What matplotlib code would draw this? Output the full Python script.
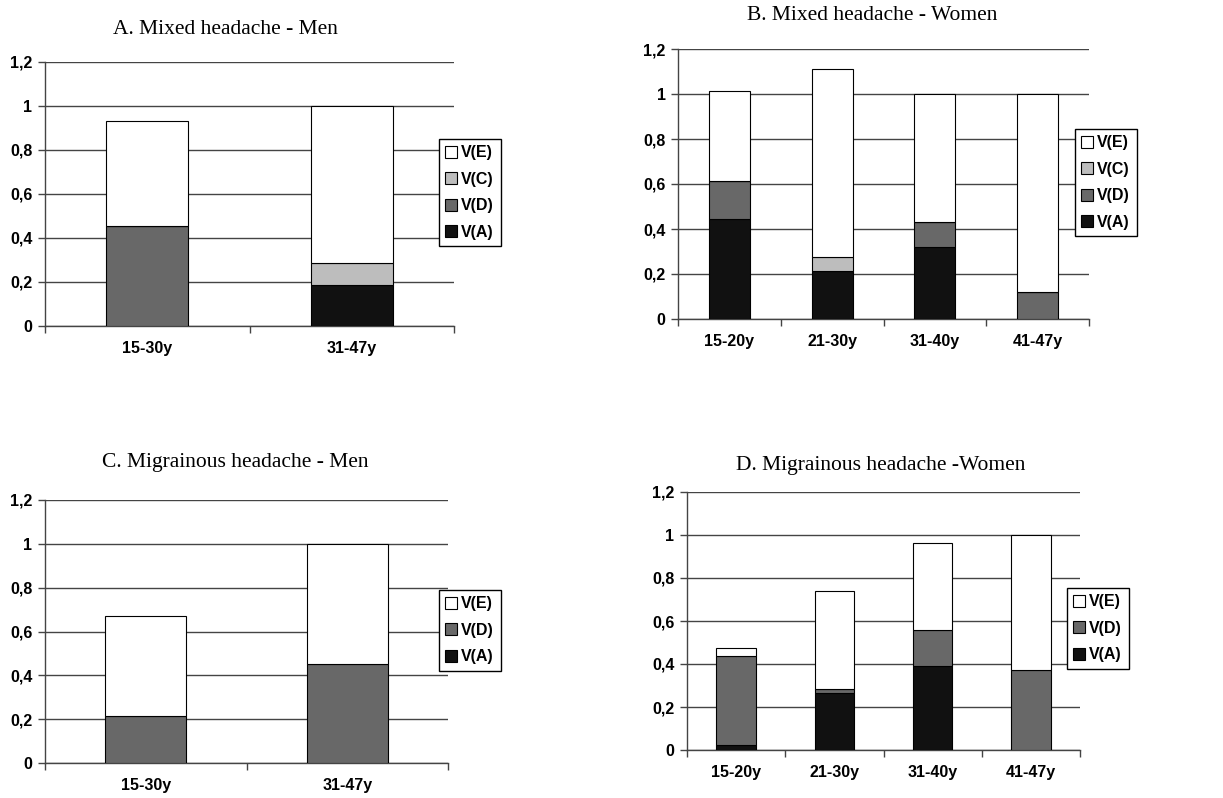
import numpy as np
import matplotlib.pyplot as plt
from matplotlib.patches import Patch

# data
a_groups = ['15-30y', '31-47y']
a_VA = [0.0, 0.185]
a_VD = [0.455, 0.0]
a_VC = [0.0, 0.10]
a_VE = [0.475, 0.715]

b_groups = ['15-20y', '21-30y', '31-40y', '41-47y']
b_VA = [0.445, 0.215, 0.32, 0.0]
b_VD = [0.17, 0.0, 0.11, 0.12]
b_VC = [0.0, 0.06, 0.0, 0.0]
b_VE = [0.40, 0.835, 0.57, 0.88]

c_groups = ['15-30y', '31-47y']
c_VA = [0.0, 0.0]
c_VD = [0.215, 0.45]
c_VE = [0.455, 0.55]

d_groups = ['15-20y', '21-30y', '31-40y', '41-47y']
d_VA = [0.025, 0.265, 0.39, 0.0]
d_VD = [0.41, 0.02, 0.17, 0.37]
d_VE = [0.04, 0.455, 0.405, 0.63]

yticks = [0, 0.2, 0.4, 0.6, 0.8, 1.0, 1.2]
ytick_labels = ['0', '0,2', '0,4', '0,6', '0,8', '1', '1,2']

colors = {'V(A)': '#111111', 'V(D)': '#686868', 'V(C)': '#bdbdbd', 'V(E)': '#ffffff'}

W, H = 1223, 798
fig = plt.figure(figsize=(W / 100, H / 100), dpi=100)

def px_axes(left, right, top, bottom):
    return fig.add_axes([left / W, 1 - bottom / H, (right - left) / W, (bottom - top) / H])

panels = [
    dict(title='A. Mixed headache - Men', groups=a_groups,
         series=[('V(A)', a_VA), ('V(D)', a_VD), ('V(C)', a_VC), ('V(E)', a_VE)],
         box=(45, 454, 62, 326), title_xy=(225, 30), leg_xy=(439, 139)),
    dict(title='B. Mixed headache - Women', groups=b_groups,
         series=[('V(A)', b_VA), ('V(D)', b_VD), ('V(C)', b_VC), ('V(E)', b_VE)],
         box=(678, 1089, 49, 319), title_xy=(872, 16), leg_xy=(1075, 129)),
    dict(title='C. Migrainous headache - Men', groups=c_groups,
         series=[('V(A)', c_VA), ('V(D)', c_VD), ('V(E)', c_VE)],
         box=(45, 448, 500, 763), title_xy=(235, 463), leg_xy=(439, 590)),
    dict(title='D. Migrainous headache -Women', groups=d_groups,
         series=[('V(A)', d_VA), ('V(D)', d_VD), ('V(E)', d_VE)],
         box=(687, 1080, 492, 750), title_xy=(881, 465), leg_xy=(1067, 588)),
]

for p in panels:
    ax = px_axes(*p['box'])
    n = len(p['groups'])
    x = np.arange(n)
    bottom = np.zeros(n)
    for name, vals in p['series']:
        vals = np.array(vals)
        ax.bar(x, vals, width=0.4, bottom=bottom, color=colors[name],
               edgecolor='black', linewidth=0.8, zorder=3)
        bottom += vals

    ax.set_xlim(-0.5, n - 0.5)
    ax.set_ylim(0, 1.2)
    ax.set_yticks(yticks)
    ax.set_yticklabels(ytick_labels, fontsize=11.5, fontweight='bold', family='Liberation Sans')
    ax.yaxis.grid(True, color='#444444', linewidth=1.0, zorder=0)
    ax.set_axisbelow(True)

    # ticks at the category boundaries, labels at the centres
    ax.set_xticks(np.arange(n + 1) - 0.5)
    ax.set_xticklabels([])
    ax.set_xticks(x, minor=True)
    ax.set_xticklabels(p['groups'], minor=True, fontsize=11.5, fontweight='bold',
                       family='Liberation Sans')
    ax.tick_params(axis='x', which='minor', length=0, pad=11)
    ax.tick_params(axis='x', which='major', length=5, width=1, color='#444444')
    ax.tick_params(axis='y', length=5, width=1, color='#444444', pad=4)

    for s in ['top', 'right']:
        ax.spines[s].set_visible(False)
    for s in ['left', 'bottom']:
        ax.spines[s].set_color('#444444')
        ax.spines[s].set_linewidth(1.0)

    handles = [Patch(facecolor=colors[name], edgecolor='black', linewidth=0.8, label=name)
               for name, _ in p['series'][::-1]]
    lx, ly = p['leg_xy']
    leg = ax.legend(handles=handles, loc='upper left', bbox_to_anchor=(lx / W, 1 - ly / H),
                    bbox_transform=fig.transFigure, fancybox=False, framealpha=1,
                    edgecolor='black', handlelength=0.75, handleheight=0.75,
                    handletextpad=0.25, labelspacing=0.72, borderpad=0.4,
                    borderaxespad=0, prop={'family': 'Liberation Sans', 'weight': 'bold', 'size': 11.5})
    leg.get_frame().set_linewidth(1.0)

    tx, ty = p['title_xy']
    fig.text(tx / W, 1 - ty / H, p['title'], ha='center', va='center',
             fontsize=15.5, family='Liberation Serif')

fig.savefig('out.png', dpi=100)
